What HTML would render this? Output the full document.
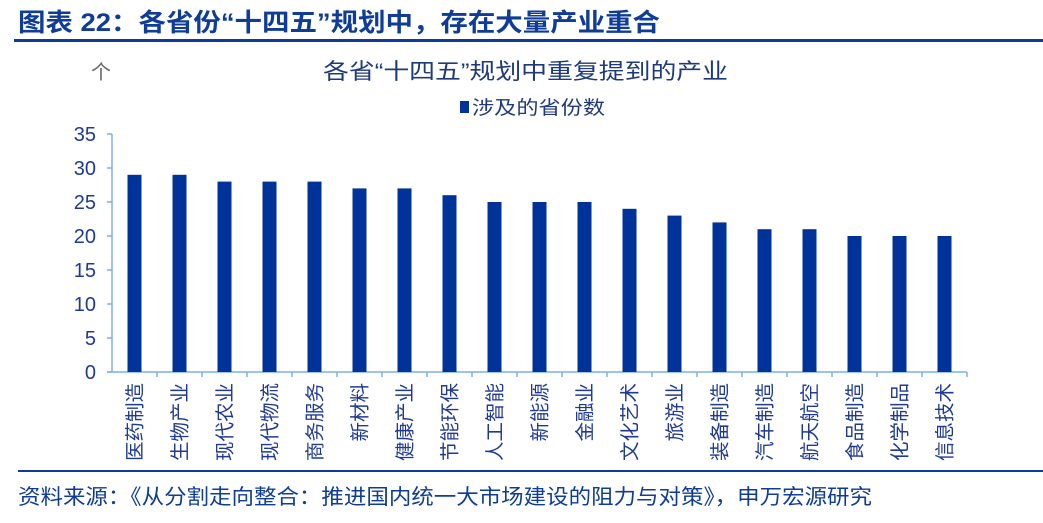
<!DOCTYPE html>
<html><head><meta charset="utf-8"><style>
body{margin:0;background:#fff;width:1043px;height:518px;overflow:hidden;font-family:"Liberation Sans","Noto Sans CJK SC",sans-serif;}
svg text{font-family:"Liberation Sans","Noto Sans CJK SC",sans-serif;}
</style></head><body>
<svg width="1043" height="518">
<text x="18" y="31" font-size="25" font-weight="bold" fill="#0f3c96" textLength="642" lengthAdjust="spacingAndGlyphs">图表 22：各省份“十四五”规划中，存在大量产业重合</text>
<rect x="14" y="39" width="1029" height="3" fill="#0f3c96"/>
<text x="101" y="79" font-size="20" fill="#666" text-anchor="middle">个</text>
<text x="323" y="79" font-size="22" fill="#1f3a7a" textLength="405" lengthAdjust="spacingAndGlyphs">各省“十四五”规划中重复提到的产业</text>
<g>
<rect x="460" y="101" width="9" height="12" fill="#003399"/>
<text x="472" y="114" font-size="19" fill="#1f3a7a" textLength="133" lengthAdjust="spacingAndGlyphs">涉及的省份数</text>
</g>
<g id="plot"></g>
<rect x="18" y="470" width="1025" height="2" fill="#0f3c96"/>
<text x="18" y="504" font-size="21" fill="#0f3c96" textLength="854" lengthAdjust="spacingAndGlyphs">资料来源：《从分割走向整合：推进国内统一大市场建设的阻力与对策》，申万宏源研究</text>
</svg>
<script>
const categories=["医药制造","生物产业","现代农业","现代物流","商务服务","新材料","健康产业","节能环保","人工智能","新能源","金融业","文化艺术","旅游业","装备制造","汽车制造","航天航空","食品制造","化学制品","信息技术"];
const values=[29,29,28,28,28,27,27,26,25,25,25,24,23,22,21,21,20,20,20];
const yTicks=[0,5,10,15,20,25,30,35];
const NS="http://www.w3.org/2000/svg";
const g=document.getElementById('plot');
const x0=112,step=45,yBase=372,yTop=134,yMax=35;
const y=v=>yBase-(v/yMax)*(yBase-yTop);
const xc=i=>x0+step*(i+0.5);
function mk(t,a){const e=document.createElementNS(NS,t);for(const k in a)e.setAttribute(k,a[k]);g.appendChild(e);return e;}
let ax=mk('line',{x1:x0,y1:yTop,x2:x0,y2:yBase,stroke:'#7fb0e0','stroke-width':1.5});


yTicks.forEach(v=>{
 let tl=mk('line',{x1:x0-5,y1:y(v),x2:x0,y2:y(v),stroke:'#7fb0e0','stroke-width':1.5});
 
 
 let t=mk('text',{x:96,y:y(v)+7,'font-size':20,fill:'#1f3a93','text-anchor':'end'});
 t.textContent=v;
 
 
});
let xa=mk('line',{x1:x0-5,y1:yBase,x2:x0+step*categories.length,y2:yBase,stroke:'#7fb0e0','stroke-width':1.5});


categories.forEach((c,i)=>{
 let tk=mk('line',{x1:x0+step*(i+1),y1:yBase,x2:x0+step*(i+1),y2:yBase+5,stroke:'#7fb0e0','stroke-width':1.5});
 
 
 let b=mk('rect',{x:xc(i)-7,y:y(values[i]),width:14,height:yBase-y(values[i]),fill:'#003399'});
 
 
 let t=mk('text',{x:0,y:0,'font-size':19.5,fill:'#1f3a93','text-anchor':'end',transform:`translate(${xc(i)+7},383) rotate(-90)`});
 t.textContent=c;
 
 
});
</script>
</body></html>
